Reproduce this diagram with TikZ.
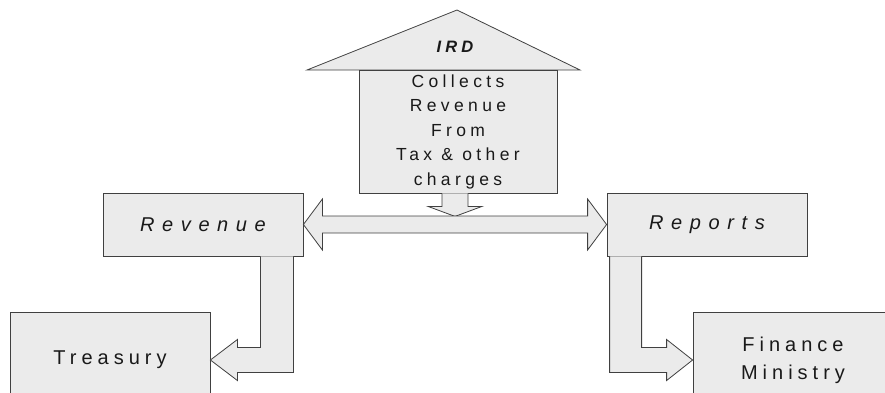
\documentclass[tikz,border=0pt]{standalone}
\usepackage{fontspec}
\setmainfont{Liberation Sans}
\newfontfamily\spaced[LetterSpace=25]{Liberation Sans}
\newfontfamily\wide[LetterSpace=38]{Liberation Sans}

\usetikzlibrary{calc}

\begin{document}
\begin{tikzpicture}[x={(1pt,0)},y={(0,-1pt)},
    box/.style={draw=black!75, fill=black!8, line width=0.8pt, inner sep=0pt, text=black!90},
    blockarrow/.style={draw=black!75, fill=black!8, line width=0.8pt, line join=miter},
    big/.style={font=\spaced\fontsize{20}{28}\selectfont},
    title/.style={font=\wide\fontsize{20}{24}\selectfont\itshape},
    small/.style={font=\spaced\fontsize{17.5}{24.5}\selectfont}]
        \useasboundingbox (0,0) rectangle (885,392);
        \clip (0,0) rectangle (885,392);

        \draw [blockarrow] (307,70) -- (457,10) -- (580,70) -- cycle;
        \node [box, minimum width=198, minimum height=123, small, align=center](body) at (458,131.5)
              {Collects\\Revenue\\From\\Tax \& other\\charges};
        \node [text=black!90, font=\spaced\fontsize{16.5}{24}\selectfont\bfseries\itshape](ird) at (455,47){IRD};

        \node [box, minimum width=200, minimum height=63, title](rev) at (203,224.5){Revenue};
        \node [box, minimum width=200, minimum height=63, title](rep) at (707,224.5){Reports};
        \node [box, minimum width=200, minimum height=96, big](treas) at (110,360){\raisebox{5pt}{Treasury}};
        \node [box, minimum width=200, minimum height=96, big, align=center](fin) at (793,360){Finance\\Ministry};

        \draw [blockarrow] ($(body.south)+(-16,0)$) -- ++(0,13) -- ++(-14,0) -- ++(27,10) -- ++(27,-10) -- ++(-14,0) -- ++(0,-13);
        \draw [blockarrow] (rev.east) -- ++(19,-25.5) -- ++(0,17) -- ($(rep.west)+(-19,-8.5)$) -- ++(0,-17)
              -- (rep.west) -- ++(-19,25.5) -- ++(0,-17) -- ($(rev.east)+(19,8.5)$) -- ++(0,17) -- cycle;
        \draw [blockarrow] ($(rev.south east)+(-10,0)$) -- ($(treas.east)+(83,12.5)$) -- ++(-56,0) -- ++(0,8)
              -- (treas.east) -- ++(27,-20.5) -- ++(0,8) -- ++(23,0) -- ($(rev.south east)+(-43,0)$);
        \draw [blockarrow] ($(rep.south west)+(3,0)$) -- ($(fin.west)+(-83,12.5)$) -- ++(57,0) -- ++(0,8)
              -- (fin.west) -- ++(-26,-20.5) -- ++(0,8) -- ++(-25,0) -- ($(rep.south west)+(35,0)$);
      \end{tikzpicture}
\end{document}
